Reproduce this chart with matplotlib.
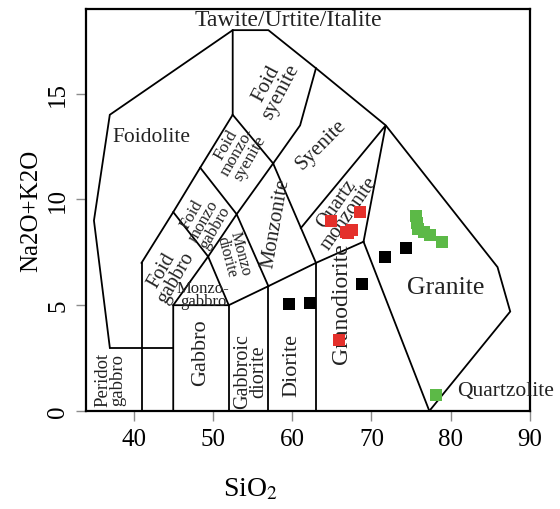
import matplotlib
matplotlib.use("Agg")
import matplotlib.pyplot as plt

# field boundaries (SiO2, Na2O+K2O)
outer = [(37, 3), (35, 9), (37, 14), (52.5, 18), (57, 18), (63, 16.2), (71.8, 13.5),
         (85.9, 6.8), (87.5, 4.7), (77.3, 0)]
boundaries = [
    [(37, 3), (45, 3)],
    [(41, 0), (41, 7)],
    [(41, 7), (45, 9.4), (48.4, 11.5), (52.5, 14), (52.5, 18)],
    [(52.5, 14), (57.6, 11.7), (61, 13.5), (63, 16.2)],
    [(45, 9.4), (49.4, 7.3), (45, 5), (45, 0)],
    [(48.4, 11.5), (53, 9.3), (57.6, 11.7)],
    [(49.4, 7.3), (53, 9.3), (57, 5.9)],
    [(49.4, 7.3), (52, 5)],
    [(45, 5), (52, 5), (57, 5.9), (63, 7), (69, 8)],
    [(52, 0), (52, 5)],
    [(57, 0), (57, 5.9)],
    [(63, 0), (63, 7)],
    [(57.6, 11.7), (63, 7)],
    [(69, 8), (71.8, 13.5), (61.1, 8.65)],
    [(69, 8), (77.3, 0)],
]

# field labels: text, x, y, rotation, size
labels = [
    ("Tawite/Urtite/Italite", 59.5, 18.5, 0, 17),
    ("Foidolite", 42.2, 12.95, 0, 15.5),
    ("Foid\nsyenite", 57.6, 15.3, 62, 15),
    ("Syenite", 63.6, 12.6, 45, 15),
    ("Foid\nmonzo-\nsyenite", 53.1, 12.3, 60, 12.5),
    ("Foid\nmonzo\ngabbro", 48.8, 9.0, 60, 12),
    ("Foid\ngabbro", 44.5, 6.5, 60, 14.5),
    ("Monzo\ndiorite", 52.6, 7.4, -75, 11.5),
    ("Monzo-\ngabbro", 48.8, 5.5, 0, 12),
    ("Monzonite", 57.9, 8.9, 80, 15),
    ("Quartz\nmonzonite", 66.4, 9.6, 55, 14.5),
    ("Granodiorite", 66.2, 5.1, 90, 17),
    ("Diorite", 60.0, 2.2, 90, 16),
    ("Gabbroic\ndiorite", 54.8, 1.9, 90, 14.5),
    ("Gabbro", 48.4, 2.8, 90, 16),
    ("Peridot\ngabbro", 37.1, 1.5, 90, 13.5),
    ("Granite", 79.3, 5.85, 0, 18.5),
    ("Quartzolite", 86.9, 0.95, 0, 15.5),
]

# samples
red_sio2 = [64.9, 68.5, 66.8, 67.5, 67.1, 65.9]
red_alk = [9.0, 9.4, 8.45, 8.55, 8.4, 3.35]
black_sio2 = [59.6, 62.2, 68.8, 71.7, 74.3]
black_alk = [5.05, 5.1, 6.0, 7.3, 7.7]
green_sio2 = [75.6, 75.7, 75.9, 76.6, 77.4, 78.9, 78.2]
green_alk = [9.2, 8.9, 8.6, 8.45, 8.3, 8.0, 0.75]

plt.rcParams["font.family"] = ["Liberation Serif", "DejaVu Serif"]
plt.rcParams["mathtext.fontset"] = "stix"

fig = plt.figure(figsize=(5.6, 5.1), dpi=100)
ax = fig.add_axes([0.1536, 0.1922, 0.7929, 0.7882])

for line in [outer] + boundaries:
    xs, ys = zip(*line)
    ax.plot(xs, ys, color="black", lw=1.3, solid_joinstyle="miter")

for text, x, y, rot, size in labels:
    ax.text(x, y, text, rotation=rot, fontsize=size, ha="center", va="center",
            rotation_mode="anchor", linespacing=0.8, color="#222222", clip_on=False)

ax.scatter(red_sio2, red_alk, marker="s", s=80, color="#e4302b", zorder=3, linewidths=0)
ax.scatter(black_sio2, black_alk, marker="s", s=80, color="black", zorder=3, linewidths=0)
ax.scatter(green_sio2, green_alk, marker="s", s=80, color="#5cb947", zorder=3, linewidths=0)

ax.set_xlim(34, 90)
ax.set_ylim(0, 19)
ax.set_xticks([40, 50, 60, 70, 80, 90])
ax.set_yticks([0, 5, 10, 15])
ax.tick_params(direction="out", length=7, width=1, color="0.55", labelsize=18, pad=5)
for lab in ax.get_yticklabels():
    lab.set_rotation(90)
    lab.set_va("center")
for sp in ax.spines.values():
    sp.set_linewidth(1.6)

ax.set_ylabel("Na2O+K2O", fontsize=18, labelpad=4)
fig.text(250 / 560, 1 - 490 / 510, r"SiO$_2$", fontsize=20, ha="center", va="center")

fig.savefig("out.png", dpi=100)
